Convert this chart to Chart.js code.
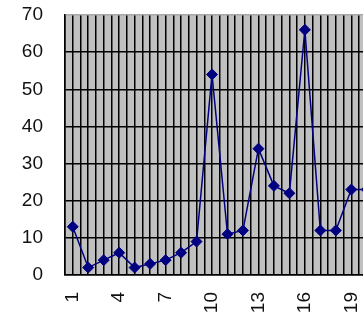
<!DOCTYPE html>
<html lang="en">
<head>
    <meta charset="UTF-8">
    <title>Series</title>
    <script src="https://cdn.jsdelivr.net/npm/chart.js"></script>
    <style>
        html, body { margin: 0; padding: 0; background: #fff; overflow: hidden; }
        #wrap { position: relative; width: 381px; height: 317px; }
    </style>
</head>
<body>
    <div id="wrap"><canvas id="seriesChart"></canvas></div>

    <script>
        // data
        const categories = [1, 2, 3, 4, 5, 6, 7, 8, 9, 10, 11, 12, 13, 14, 15, 16, 17, 18, 19, 20];
        const values = [13, 2, 4, 6, 2, 3, 4, 6, 9, 54, 11, 12, 34, 24, 22, 66, 12, 12, 23, 23];
        const xTickLabels = [1, 4, 7, 10, 13, 16, 19];
        const yTicks = [0, 10, 20, 30, 40, 50, 60, 70];

        // grey plot area like the old office charts
        const plotBg = {
            id: 'plotBg',
            beforeDraw(chart) {
                const a = chart.chartArea;
                chart.ctx.save();
                chart.ctx.fillStyle = '#c0c0c0';
                chart.ctx.fillRect(a.left, a.top, a.right - a.left, a.bottom - a.top);
                chart.ctx.restore();
            }
        };

        const font = { family: 'Liberation Sans, Arial, sans-serif', size: 19 };

        new Chart(document.getElementById('seriesChart'), {
            type: 'line',
            data: {
                datasets: [{
                    data: categories.map((c, i) => ({ x: c, y: values[i] })),
                    borderColor: '#000080',
                    backgroundColor: '#000080',
                    borderWidth: 1.5,
                    pointStyle: 'rectRot',
                    pointRadius: 5.5,
                    pointBorderWidth: 1,
                    tension: 0
                }]
            },
            options: {
                responsive: true,
                maintainAspectRatio: false,
                animation: false,
                layout: { padding: { top: 15, left: 0, right: 2, bottom: 0 } },
                plugins: { legend: { display: false }, tooltip: { enabled: false } },
                scales: {
                    x: {
                        type: 'linear',
                        min: 0.5,
                        max: categories.length + 0.5,
                        afterFit: s => { s.height = 42; s.paddingLeft = 0; s.paddingRight = 0; },
                        grid: { color: '#000', lineWidth: 1.5, drawTicks: false },
                        border: { color: '#000', width: 1.5 },
                        ticks: {
                            stepSize: 0.5,
                            maxTicksLimit: 200,
                            autoSkip: false,
                            minRotation: 90,
                            maxRotation: 90,
                            padding: 17,
                            color: '#111',
                            font: font,
                            callback: v => xTickLabels.includes(v) ? String(v) : ''
                        }
                    },
                    y: {
                        min: yTicks[0],
                        max: yTicks[yTicks.length - 1],
                        afterFit: s => { s.width = 65; s.paddingTop = 0; s.paddingBottom = 0; },
                        grid: {
                            color: ctx => ctx.tick && ctx.tick.value === 70 ? '#a8a8a8' : '#000',
                            lineWidth: 1.5,
                            drawTicks: false
                        },
                        border: { color: '#000', width: 1.5 },
                        ticks: { stepSize: 10, padding: 22, color: '#111', font: font }
                    }
                }
            },
            plugins: [plotBg]
        });
    </script>
</body>
</html>
